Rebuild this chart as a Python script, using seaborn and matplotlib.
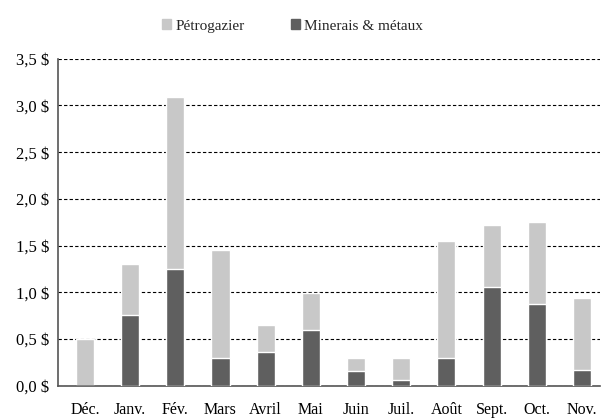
import matplotlib
matplotlib.use("Agg")
import matplotlib.pyplot as plt
import seaborn as sns
import pandas as pd
from matplotlib.patches import Patch

months = ["Déc.", "Janv.", "Fév.", "Mars", "Avril", "Mai", "Juin", "Juil.",
          "Août", "Sept.", "Oct.", "Nov."]
minerais = [0.0, 0.76, 1.25, 0.29, 0.36, 0.60, 0.16, 0.06, 0.29, 1.06, 0.87, 0.17]
petrogazier = [0.50, 0.54, 1.84, 1.16, 0.29, 0.39, 0.14, 0.23, 1.26, 0.66, 0.88, 0.77]
yticks = [0.0, 0.5, 1.0, 1.5, 2.0, 2.5, 3.0, 3.5]

light = "#c8c8c8"
dark = "#5f5f5f"

sns.set_style("white")
plt.rcParams["font.family"] = ["Liberation Serif", "DejaVu Serif"]

df = pd.DataFrame({"mois": months, "minerais": minerais, "petro": petrogazier})
df["total"] = df["minerais"] + df["petro"]

fig = plt.figure(figsize=(6.03, 4.2), dpi=100)
ax = fig.add_axes([0.096, 0.082, 0.899, 0.778])

ax.set_axisbelow(True)
ax.yaxis.grid(True, linestyle=(0, (3, 2)), color="black", linewidth=0.8)

# stacked: total in light grey, minerals drawn over it in dark grey
sns.barplot(data=df, x="mois", y="total", color=light, width=0.4,
            saturation=1, ax=ax, zorder=2)
sns.barplot(data=df, x="mois", y="minerais", color=dark, width=0.4,
            saturation=1, ax=ax, zorder=3)

ax.set_ylim(0, 3.5)
ax.set_xlim(-0.6, 11.4)
ax.set_yticks(yticks)
ax.set_yticklabels([f"{v:.1f}".replace(".", ",") + " $" for v in yticks])
ax.set_xlabel("")
ax.set_ylabel("")
ax.tick_params(axis="both", length=0, colors="black")
ax.tick_params(axis="x", pad=12, labelsize=11.5)
ax.tick_params(axis="y", pad=6, labelsize=12)

for s in ["top", "right"]:
    ax.spines[s].set_visible(False)
for s in ["left", "bottom"]:
    ax.spines[s].set_color("#555555")
    ax.spines[s].set_linewidth(1.2)

handles = [Patch(color=light, label="Pétrogazier"),
           Patch(color=dark, label="Minerais & métaux")]
fig.legend(handles=handles, loc="center", bbox_to_anchor=(0.485, 0.938), ncol=2,
           frameon=False, fontsize=11, handlelength=0.6, handleheight=0.6,
           handletextpad=0.3, columnspacing=3.0)

fig.savefig("out.png", dpi=100)
